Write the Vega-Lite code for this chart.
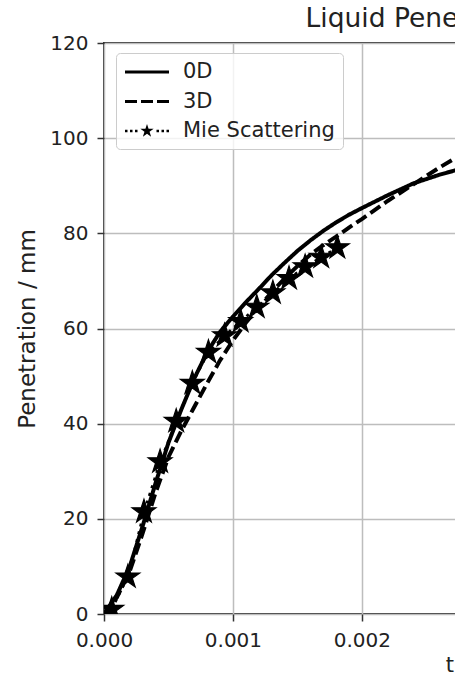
{
  "$schema": "https://vega.github.io/schema/vega-lite/v6.json",
  "width": 722,
  "height": 571,
  "autosize": {"type": "none"},
  "padding": {"left": 104, "top": 43, "right": 10, "bottom": 71},
  "background": "white",
  "config": {
    "font": "DejaVu Sans",
    "view": {"stroke": "#333333", "strokeWidth": 2}
  },
  "title": {
    "text": "Liquid Penetration Length",
    "fontSize": 26.5,
    "fontWeight": "normal",
    "color": "#222222",
    "frame": "group",
    "anchor": "middle",
    "dx": 11,
    "offset": 1
  },
  "datasets": {
    "models": [
      {"t": 0, "value": 0, "series": "0D"},
      {"t": 0.0001, "value": 4, "series": "0D"},
      {"t": 0.0002, "value": 10, "series": "0D"},
      {"t": 0.0003, "value": 18.5, "series": "0D"},
      {"t": 0.0004, "value": 27.5, "series": "0D"},
      {"t": 0.0005, "value": 36, "series": "0D"},
      {"t": 0.0006, "value": 43, "series": "0D"},
      {"t": 0.0007, "value": 49.5, "series": "0D"},
      {"t": 0.0008, "value": 55, "series": "0D"},
      {"t": 0.0009, "value": 59.3, "series": "0D"},
      {"t": 0.001, "value": 62.5, "series": "0D"},
      {"t": 0.0011, "value": 65.5, "series": "0D"},
      {"t": 0.0012, "value": 68.3, "series": "0D"},
      {"t": 0.0013, "value": 71.2, "series": "0D"},
      {"t": 0.0014, "value": 73.8, "series": "0D"},
      {"t": 0.0015, "value": 76.3, "series": "0D"},
      {"t": 0.0016, "value": 78.5, "series": "0D"},
      {"t": 0.0017, "value": 80.5, "series": "0D"},
      {"t": 0.0018, "value": 82.3, "series": "0D"},
      {"t": 0.0019, "value": 83.9, "series": "0D"},
      {"t": 0.002, "value": 85.3, "series": "0D"},
      {"t": 0.0022, "value": 88, "series": "0D"},
      {"t": 0.0024, "value": 90.5, "series": "0D"},
      {"t": 0.0026, "value": 92.3, "series": "0D"},
      {"t": 0.0028, "value": 93.8, "series": "0D"},
      {"t": 0.003, "value": 95, "series": "0D"},
      {"t": 0.0033, "value": 96.5, "series": "0D"},
      {"t": 0.0036, "value": 97.6, "series": "0D"},
      {"t": 0.004, "value": 98.8, "series": "0D"},
      {"t": 0.0045, "value": 99.8, "series": "0D"},
      {"t": 0.005, "value": 100.5, "series": "0D"},
      {"t": 0.0054, "value": 100.9, "series": "0D"},
      {"t": 0, "value": 0, "series": "3D"},
      {"t": 0.0001, "value": 3.5, "series": "3D"},
      {"t": 0.0002, "value": 9, "series": "3D"},
      {"t": 0.0003, "value": 17, "series": "3D"},
      {"t": 0.0004, "value": 25.5, "series": "3D"},
      {"t": 0.0005, "value": 33, "series": "3D"},
      {"t": 0.0006, "value": 38.5, "series": "3D"},
      {"t": 0.0007, "value": 43.5, "series": "3D"},
      {"t": 0.0008, "value": 48.5, "series": "3D"},
      {"t": 0.0009, "value": 53.3, "series": "3D"},
      {"t": 0.001, "value": 57.5, "series": "3D"},
      {"t": 0.0011, "value": 61.2, "series": "3D"},
      {"t": 0.0012, "value": 64.5, "series": "3D"},
      {"t": 0.0013, "value": 67.6, "series": "3D"},
      {"t": 0.0014, "value": 70.5, "series": "3D"},
      {"t": 0.0015, "value": 73.1, "series": "3D"},
      {"t": 0.0016, "value": 75.5, "series": "3D"},
      {"t": 0.0017, "value": 77.5, "series": "3D"},
      {"t": 0.0018, "value": 79.3, "series": "3D"},
      {"t": 0.0019, "value": 81.2, "series": "3D"},
      {"t": 0.002, "value": 83, "series": "3D"},
      {"t": 0.0022, "value": 86.8, "series": "3D"},
      {"t": 0.0024, "value": 90.3, "series": "3D"},
      {"t": 0.0026, "value": 93.8, "series": "3D"},
      {"t": 0.0028, "value": 97, "series": "3D"},
      {"t": 0.003, "value": 100, "series": "3D"},
      {"t": 0.0035, "value": 106.5, "series": "3D"},
      {"t": 0.004, "value": 111.5, "series": "3D"},
      {"t": 0.0045, "value": 115.5, "series": "3D"},
      {"t": 0.005, "value": 118.5, "series": "3D"},
      {"t": 0.0054, "value": 120, "series": "3D"}
    ],
    "mie": [
      {"t": 0.00006, "value": 1, "series": "Mie Scattering"},
      {"t": 0.000185, "value": 7.8, "series": "Mie Scattering"},
      {"t": 0.00031, "value": 21.5, "series": "Mie Scattering"},
      {"t": 0.000435, "value": 32, "series": "Mie Scattering"},
      {"t": 0.00056, "value": 40.5, "series": "Mie Scattering"},
      {"t": 0.000685, "value": 48.5, "series": "Mie Scattering"},
      {"t": 0.00081, "value": 55, "series": "Mie Scattering"},
      {"t": 0.000935, "value": 58.5, "series": "Mie Scattering"},
      {"t": 0.00106, "value": 61.5, "series": "Mie Scattering"},
      {"t": 0.001185, "value": 64.5, "series": "Mie Scattering"},
      {"t": 0.00131, "value": 67.5, "series": "Mie Scattering"},
      {"t": 0.001435, "value": 70.5, "series": "Mie Scattering"},
      {"t": 0.00156, "value": 73, "series": "Mie Scattering"},
      {"t": 0.001685, "value": 75, "series": "Mie Scattering"},
      {"t": 0.00181, "value": 77, "series": "Mie Scattering"}
    ],
    "legend": [
      {"series": "0D"},
      {"series": "3D"},
      {"series": "Mie Scattering"}
    ]
  },
  "encoding": {
    "x": {
      "field": "t",
      "type": "quantitative",
      "scale": {"domain": [0, 0.0056], "nice": false, "zero": false},
      "axis": {
        "title": "t / s",
        "values": [0, 0.001, 0.002, 0.003, 0.004, 0.005],
        "format": ".3f",
        "labelFlush": false,
        "labelFontSize": 20,
        "labelColor": "#222222",
        "labelPadding": 9,
        "tickSize": 7,
        "tickWidth": 1.5,
        "tickColor": "#333333",
        "domain": false,
        "grid": true,
        "gridColor": "#bdbdbd",
        "gridWidth": 1.5,
        "titleFontSize": 21,
        "titleFontWeight": "normal",
        "titleColor": "#222222",
        "titlePadding": 4
      }
    },
    "y": {
      "field": "value",
      "type": "quantitative",
      "scale": {"domain": [0, 120], "nice": false},
      "axis": {
        "title": "Penetration / mm",
        "values": [0, 20, 40, 60, 80, 100, 120],
        "labelFlush": false,
        "labelFontSize": 20,
        "labelColor": "#222222",
        "labelPadding": 9,
        "tickSize": 7,
        "tickWidth": 1.5,
        "tickColor": "#333333",
        "domain": false,
        "grid": true,
        "gridColor": "#bdbdbd",
        "gridWidth": 1.5,
        "titleFontSize": 23,
        "titleFontWeight": "normal",
        "titleColor": "#222222",
        "titlePadding": 10
      }
    }
  },
  "layer": [
    {
      "data": {"name": "models"},
      "mark": {"type": "line", "color": "black", "strokeWidth": 4, "clip": true},
      "encoding": {
        "detail": {"field": "series"},
        "strokeDash": {
          "field": "series",
          "type": "nominal",
          "scale": {"domain": ["0D", "3D"], "range": [[1, 0], [12, 5]]},
          "legend": null
        }
      }
    },
    {
      "data": {"name": "mie"},
      "mark": {"type": "line", "color": "black", "strokeWidth": 2.5, "strokeDash": [3, 5], "clip": true},
      "encoding": {}
    },
    {
      "data": {"name": "mie"},
      "mark": {
        "type": "point",
        "shape": "M0,-1L0.2245,-0.309L0.951,-0.309L0.3633,0.118L0.588,0.809L0,0.382L-0.588,0.809L-0.3633,0.118L-0.951,-0.309L-0.2245,-0.309Z",
        "size": 625,
        "filled": true,
        "color": "black",
        "stroke": "black",
        "strokeWidth": 1.2,
        "opacity": 1,
        "clip": true
      }
    },
    {
      "data": {"name": "legend"},
      "mark": {"type": "point", "filled": true, "color": "black", "opacity": 0},
      "encoding": {
        "x": null,
        "y": null,
        "shape": {
          "field": "series",
          "type": "nominal",
          "scale": {
            "domain": ["0D", "3D", "Mie Scattering"],
            "range": [
              "M-1,-0.15H3.4V0.15H-1Z",
              "M-1,-0.15H0.2V0.15H-1ZM0.6,-0.15H1.8V0.15H0.6ZM2.2,-0.15H3.4V0.15H2.2Z",
              "M-1,-0.12H-0.75V0.12H-1ZM-0.5,-0.12H-0.25V0.12H-0.5ZM0,-0.12H0.25V0.12H0ZM1.2,-0.7L1.357,-0.216L1.866,-0.216L1.454,0.083L1.612,0.566L1.2,0.267L0.788,0.566L0.946,0.083L0.534,-0.216L1.043,-0.216ZM2.15,-0.12H2.4V0.12H2.15ZM2.65,-0.12H2.9V0.12H2.65ZM3.15,-0.12H3.4V0.12H3.15Z"
            ]
          },
          "legend": {
            "title": null,
            "orient": "none",
            "legendX": 12,
            "legendY": 10,
            "padding": 8,
            "rowPadding": 8.5,
            "symbolSize": 400,
            "symbolFillColor": "black",
            "symbolOpacity": 1,
            "labelOffset": 37,
            "labelFontSize": 21,
            "labelColor": "#222222",
            "labelLimit": 300,
            "fillColor": "rgba(255,255,255,0.8)",
            "strokeColor": "#cccccc",
            "cornerRadius": 4,
            "encode": {
              "symbols": {
                "update": {
                  "opacity": {"value": 1},
                  "fill": {"value": "black"},
                  "fillOpacity": {"value": 1}
                }
              }
            }
          }
        }
      }
    }
  ]
}
